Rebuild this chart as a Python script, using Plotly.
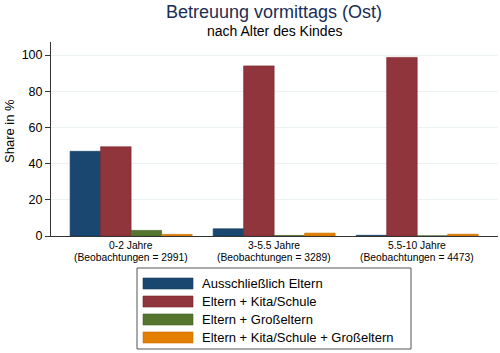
import plotly.graph_objects as go

age_groups = ["0-2 Jahre", "3-5.5 Jahre", "5.5-10 Jahre"]
n_obs = [2991, 3289, 4473]
series_names = ["Ausschließlich Eltern", "Eltern + Kita/Schule",
                "Eltern + Großeltern", "Eltern + Kita/Schule + Großeltern"]
values = {
    "Ausschließlich Eltern": [46.8, 4.0, 0.4],
    "Eltern + Kita/Schule": [49.3, 94.0, 98.7],
    "Eltern + Großeltern": [3.1, 0.3, 0.1],
    "Eltern + Kita/Schule + Großeltern": [0.9, 1.6, 1.0],
}
colors = ["#1a476f", "#90353b", "#55752f", "#e37e00"]
edges = ["#123a5c", "#7a1f27", "#456325", "#c96f00"]
y_ticks = [0, 20, 40, 60, 80, 100]

FONT = "Liberation Sans, Arial, sans-serif"
W, H = 500, 353
L, R, T, B = 51, 2, 42, 117

fig = go.Figure()
for name, c, e in zip(series_names, colors, edges):
    fig.add_trace(go.Bar(x=age_groups, y=values[name], name=name,
                         marker=dict(color=c, line=dict(color=e, width=0.6)),
                         showlegend=False))

pw = W - L - R
ph = H - T - B
def px2x(px):
    return (px - L) / pw
def py2y(py):
    return (H - B - py) / ph

# manual legend (Stata-style wide swatches)
shapes = [dict(type="rect", xref="paper", yref="paper",
               x0=px2x(137), x1=px2x(411), y0=py2y(349), y1=py2y(268),
               line=dict(color="#555555", width=1), fillcolor="white")]
annotations = []
for i, (name, c) in enumerate(zip(series_names, colors)):
    top = 278 + i * 18
    shapes.append(dict(type="rect", xref="paper", yref="paper",
                       x0=px2x(143), x1=px2x(193), y0=py2y(top + 11), y1=py2y(top),
                       line=dict(color=edges[i], width=0.6), fillcolor=c))
    annotations.append(dict(xref="paper", yref="paper", x=px2x(200), y=py2y(top + 5.5),
                            text=name, showarrow=False, xanchor="left", yanchor="middle",
                            font=dict(family=FONT, size=13, color="black")))

# category labels (two lines, tight spacing)
for g, n in zip(age_groups, n_obs):
    annotations.append(dict(xref="x", yref="paper", x=g, y=py2y(245),
                            text=g, showarrow=False, xanchor="center", yanchor="middle",
                            font=dict(family=FONT, size=10.3, color="black")))
    annotations.append(dict(xref="x", yref="paper", x=g, y=py2y(257),
                            text=f"(Beobachtungen = {n})", showarrow=False,
                            xanchor="center", yanchor="middle",
                            font=dict(family=FONT, size=10.3, color="black")))

# y-axis title
annotations.append(dict(xref="paper", yref="paper", x=px2x(9), y=py2y(131),
                        text="Share in %", showarrow=False, textangle=-90,
                        xanchor="center", yanchor="middle",
                        font=dict(family=FONT, size=13, color="black")))

annotations.append(dict(xref="paper", yref="paper", x=px2x(274), y=py2y(12),
                        text="Betreuung vormittags (Ost)", showarrow=False,
                        xanchor="center", yanchor="middle",
                        font=dict(family=FONT, size=18, color="#1a2d55")))
annotations.append(dict(xref="paper", yref="paper", x=px2x(274), y=py2y(31),
                        text="nach Alter des Kindes", showarrow=False,
                        xanchor="center", yanchor="middle",
                        font=dict(family=FONT, size=14, color="black")))

fig.update_layout(
    width=W, height=H,
    margin=dict(l=L, r=R, t=T, b=B),
    paper_bgcolor="white", plot_bgcolor="white",
    barmode="group", bargap=0.147, bargroupgap=0,
    font=dict(family=FONT, color="black"),
    shapes=shapes, annotations=annotations,
    xaxis=dict(range=[-0.56, 2.565], showline=True, linecolor="#333333", linewidth=1,
               ticks="", showgrid=False, showticklabels=False),
    yaxis=dict(range=[0, 107.2], tickvals=y_ticks, showline=True, linecolor="#333333",
               linewidth=1, ticks="outside", ticklen=5, tickcolor="#333333",
               showgrid=True, gridcolor="#eaf2f3", gridwidth=1, zeroline=False,
               tickfont=dict(size=12.5, family=FONT)),
)

fig.write_html("out.html")
